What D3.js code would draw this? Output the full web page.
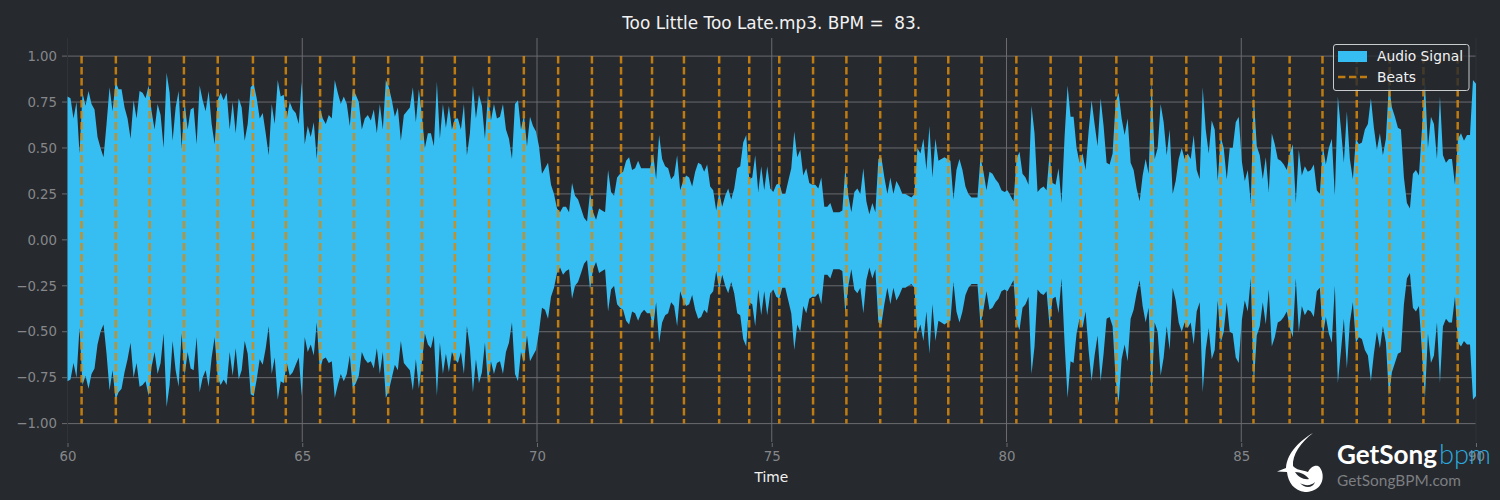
<!DOCTYPE html>
<html><head><meta charset="utf-8">
<script src="https://cdn.jsdelivr.net/npm/d3@7/dist/d3.min.js"></script>
<style>html,body{margin:0;padding:0;background:#26292e;overflow:hidden}svg{display:block}text{font-family:"DejaVu Sans",sans-serif}</style>
</head><body><svg id="c" width="1500" height="500"></svg>
<script>
const titleText = "Too Little Too Late.mp3. BPM =  83.";
const xTicks = [60,65,70,75,80,85,90];
const yTicks = [-1,-0.75,-0.5,-0.25,0,0.25,0.5,0.75,1];
const beatTimes = [60.30,61.03,61.75,62.48,63.20,63.95,64.65,65.38,66.10,66.83,67.55,68.25,68.98,69.72,70.45,71.17,71.79,72.45,73.13,73.88,74.52,75.16,75.88,76.59,77.31,78.06,78.76,79.47,80.21,80.94,81.58,82.34,83.09,83.83,84.56,85.26,86.03,86.73,87.46,88.16,88.88,89.61];
// upper envelope of the signal, one value per column of the picture
const signalTop = [
.78,.77,.66,.75,.47,.80,.73,.81,.74,.71,.56,.50,.45,.63,.83,.70,.86,.82,.82,.72,.66,.55,.76,.66,.81,.80,.77,.84,.70,.60,.74,.68,.50,.91,.80,.54,.72,.81,.50,.75,.60,.71,.72,.52,.84,.76,.70,.81,.63,.52,.76,.80,.76,.80,.60,.75,.58,.77,.72,.54,.63,.83,.85,.77,.66,.69,.58,.46,.74,.63,.87,.78,.79,.66,.75,.71,.69,.63,
.86,.52,.62,.56,.64,.44,.72,.66,.63,.68,.66,.87,.80,.74,.78,.74,.62,.82,.79,.75,.60,.66,.68,.65,.71,.58,.74,.60,.87,.83,.76,.67,.72,.54,.68,.70,.72,.83,.64,.82,.68,.50,.58,.58,.51,.86,.55,.74,.61,.73,.60,.66,.66,.60,.74,.46,.58,.84,.66,.79,.73,.55,.79,.65,.74,.66,.67,.74,.60,.55,.44,.74,.76,.60,.68,.51,.67,.62,.59,.51,
.36,.39,.42,.30,.25,.17,.15,.18,.18,.15,.31,.24,.22,.17,.12,.10,.26,.15,.11,.17,.16,.15,.38,.26,.24,.34,.36,.37,.43,.45,.38,.39,.43,.39,.39,.39,.39,.47,.33,.57,.44,.40,.39,.33,.35,.46,.27,.32,.35,.34,.29,.37,.42,.41,.37,.41,.29,.27,.16,.26,.18,.24,.28,.22,.28,.39,.40,.53,.57,.33,.34,.46,.26,.40,.27,.40,.28,.26,.30,.31,
.25,.25,.32,.39,.59,.45,.49,.35,.39,.31,.30,.30,.28,.34,.18,.18,.20,.15,.15,.15,.16,.39,.24,.15,.26,.28,.25,.39,.21,.14,.20,.15,.44,.45,.34,.25,.34,.25,.32,.29,.25,.25,.24,.23,.25,.50,.47,.55,.38,.62,.34,.55,.43,.44,.45,.44,.43,.22,.38,.44,.38,.29,.25,.23,.23,.23,.45,.37,.27,.37,.36,.33,.31,.27,.26,.27,.24,.21,.44,.48,
.36,.34,.30,.73,.58,.26,.28,.29,.27,.47,.31,.30,.39,.20,.56,.84,.67,.67,.50,.42,.47,.38,.59,.76,.63,.51,.77,.62,.42,.41,.47,.75,.80,.66,.57,.66,.42,.38,.28,.21,.35,.44,.36,.86,.44,.50,.74,.64,.46,.60,.25,.32,.44,.50,.44,.47,.44,.57,.38,.33,.83,.60,.47,.65,.60,.32,.56,.50,.33,.50,.50,.64,.67,.43,.32,.38,.20,.78,.51,.46,
.33,.45,.26,.58,.52,.44,.43,.41,.38,.47,.52,.20,.49,.35,.40,.37,.38,.41,.27,.25,.51,.41,.50,.55,.24,.78,.61,.42,.70,.44,.33,.55,.52,.53,.60,.63,.77,.61,.49,.58,.46,.55,.85,.72,.67,.61,.60,.34,.20,.17,.36,.38,.35,.60,.86,.50,.67,.63,.44,.78,.46,.42,.44,.44,.30,.55,.58,.54,.57,.57,.87,.85];
// lower envelope of the signal, one value per column of the picture
const signalBottom = [
-.77,-.76,-.67,-.75,-.48,-.79,-.74,-.81,-.73,-.70,-.57,-.50,-.46,-.62,-.82,-.71,-.87,-.83,-.81,-.72,-.65,-.56,-.75,-.67,-.80,-.79,-.77,-.85,-.69,-.61,-.73,-.67,-.51,-.91,-.79,-.55,-.71,-.80,-.51,-.74,-.61,-.70,-.71,-.53,-.83,-.75,-.71,-.80,-.64,-.53,-.75,-.79,-.76,-.79,-.61,-.74,-.59,-.76,-.71,-.55,-.62,-.84,-.85,-.76,-.65,-.68,-.59,-.47,-.73,-.64,-.87,-.77,-.78,-.67,-.74,-.72,-.68,-.64,
-.85,-.53,-.61,-.57,-.63,-.45,-.71,-.65,-.64,-.67,-.66,-.86,-.79,-.73,-.77,-.73,-.63,-.81,-.78,-.74,-.61,-.65,-.67,-.66,-.70,-.59,-.73,-.61,-.86,-.82,-.75,-.68,-.71,-.55,-.67,-.69,-.71,-.82,-.65,-.81,-.67,-.51,-.57,-.59,-.52,-.85,-.56,-.73,-.62,-.72,-.61,-.65,-.67,-.61,-.73,-.47,-.59,-.83,-.65,-.78,-.72,-.56,-.78,-.66,-.73,-.67,-.66,-.73,-.61,-.56,-.45,-.73,-.77,-.61,-.67,-.52,-.66,-.63,-.60,-.50,
-.37,-.38,-.43,-.31,-.26,-.18,-.15,-.19,-.17,-.16,-.32,-.25,-.23,-.18,-.13,-.11,-.27,-.16,-.12,-.18,-.17,-.16,-.39,-.27,-.25,-.35,-.37,-.38,-.44,-.46,-.39,-.40,-.44,-.40,-.38,-.40,-.40,-.48,-.34,-.56,-.45,-.41,-.40,-.34,-.36,-.47,-.28,-.33,-.36,-.35,-.30,-.38,-.43,-.42,-.38,-.40,-.30,-.28,-.17,-.27,-.19,-.25,-.29,-.23,-.29,-.40,-.41,-.54,-.58,-.34,-.35,-.47,-.27,-.41,-.28,-.41,-.29,-.27,-.31,-.32,
-.26,-.26,-.33,-.40,-.60,-.46,-.50,-.36,-.40,-.32,-.31,-.31,-.29,-.35,-.19,-.19,-.21,-.16,-.16,-.16,-.17,-.40,-.25,-.16,-.27,-.29,-.26,-.40,-.22,-.15,-.21,-.16,-.45,-.46,-.35,-.26,-.35,-.26,-.33,-.30,-.26,-.26,-.25,-.24,-.26,-.51,-.46,-.55,-.39,-.62,-.35,-.55,-.44,-.45,-.46,-.45,-.44,-.23,-.39,-.45,-.39,-.30,-.26,-.24,-.24,-.24,-.46,-.38,-.28,-.38,-.37,-.34,-.32,-.28,-.27,-.28,-.25,-.22,-.45,-.49,
-.37,-.35,-.31,-.73,-.58,-.27,-.29,-.30,-.28,-.47,-.32,-.31,-.40,-.21,-.56,-.86,-.66,-.67,-.51,-.43,-.48,-.39,-.60,-.77,-.63,-.52,-.77,-.62,-.43,-.42,-.47,-.76,-.89,-.65,-.57,-.66,-.43,-.38,-.29,-.22,-.36,-.45,-.37,-.84,-.45,-.50,-.74,-.64,-.47,-.60,-.26,-.33,-.45,-.50,-.45,-.48,-.45,-.57,-.39,-.34,-.83,-.60,-.48,-.65,-.60,-.33,-.56,-.50,-.34,-.50,-.51,-.64,-.67,-.44,-.33,-.39,-.21,-.79,-.52,-.47,
-.34,-.46,-.27,-.58,-.53,-.45,-.44,-.42,-.39,-.48,-.53,-.21,-.50,-.36,-.41,-.38,-.39,-.42,-.28,-.26,-.52,-.42,-.51,-.56,-.25,-.78,-.61,-.43,-.70,-.45,-.34,-.56,-.53,-.54,-.60,-.63,-.77,-.62,-.50,-.59,-.47,-.56,-.85,-.72,-.67,-.62,-.61,-.35,-.21,-.18,-.37,-.39,-.36,-.61,-.86,-.51,-.67,-.63,-.45,-.78,-.47,-.43,-.45,-.45,-.31,-.56,-.58,-.55,-.57,-.57,-.87,-.85];

const svg = d3.select("#c");
const x = d3.scaleLinear().domain([60,90]).range([67.5,1476]);
const y = d3.scaleLinear().domain([-1,1]).range([423.6,56.1]);
const bg="#26292e", blue="#36bdf1", orange="#d98a0c", grid="#696b6f", tick="#85878a";

svg.append("rect").attr("width",1500).attr("height",500).attr("fill",bg);

// grid under the signal
svg.append("g").selectAll("line").data(yTicks).join("line")
  .attr("x1",62).attr("x2",1476).attr("y1",d=>y(d)).attr("y2",d=>y(d))
  .attr("stroke",grid).attr("stroke-width",1);
svg.append("g").selectAll("line").data(xTicks).join("line")
  .attr("x1",d=>x(d)).attr("x2",d=>x(d)).attr("y1",38).attr("y2",442)
  .attr("stroke",d=>(d===60||d===90)?"#303338":grid).attr("stroke-width",1);

// signal
const dt = 30/(signalTop.length-1);
const cols = d3.range(signalTop.length);
const area = d3.area()
  .x(i=>x(60+i*dt))
  .y0(i=>y(signalBottom[i]))
  .y1(i=>y(signalTop[i]))
  .curve(d3.curveLinear);
svg.append("path").attr("d",area(cols)).attr("fill",blue);

// beats
svg.append("g").selectAll("line").data(beatTimes).join("line")
  .attr("x1",d=>x(d)).attr("x2",d=>x(d)).attr("y1",y(1)).attr("y2",y(-1))
  .attr("stroke",orange).attr("stroke-opacity",.85).attr("stroke-width",2.5).attr("stroke-dasharray","7.4,3.6");

// axes
const fmt = d=>d3.format(".2f")(d).replace("-","\u2212");
const gy = svg.append("g").attr("transform","translate(62,0)")
  .call(d3.axisLeft(y).tickValues(yTicks).tickFormat(fmt).tickSize(0).tickPadding(5));
gy.select(".domain").remove();
gy.selectAll("text").attr("fill",tick).style("font-size","13.3px").style("font-family",'"DejaVu Sans"');
const gx = svg.append("g").attr("transform","translate(0,443)")
  .call(d3.axisBottom(x).tickValues(xTicks).tickFormat(d3.format("d")).tickSize(4).tickPadding(5));
gx.select(".domain").remove();
gx.selectAll("line").attr("stroke",grid).attr("stroke-width",1);
gx.selectAll("text").attr("fill",tick).style("font-size","13.3px").style("font-family",'"DejaVu Sans"');

// title and axis label
svg.append("text").attr("x",771.7).attr("y",28.5).attr("text-anchor","middle")
  .attr("fill","#f2f2f2").style("font-size","16.9px").style("white-space","pre").text(titleText);
svg.append("text").attr("x",771.3).attr("y",482).attr("text-anchor","middle")
  .attr("fill","#f2f2f2").style("font-size","13.8px").text("Time");

// legend
const lg = svg.append("g");
lg.append("rect").attr("x",1333.5).attr("y",44.5).attr("width",135.5).attr("height",46)
  .attr("rx",2.5).attr("fill",bg).attr("fill-opacity",.8).attr("stroke","#c9cacb").attr("stroke-width",1);
lg.append("rect").attr("x",1338).attr("y",51).attr("width",29).attr("height",11).attr("fill",blue);
lg.append("line").attr("x1",1338).attr("x2",1367).attr("y1",77).attr("y2",77)
  .attr("stroke",orange).attr("stroke-opacity",.85).attr("stroke-width",2.5).attr("stroke-dasharray","7.4,3.6");
lg.append("text").attr("x",1377).attr("y",61).attr("fill","#f2f2f2").style("font-size","13.8px").text("Audio Signal");
lg.append("text").attr("x",1377).attr("y",82).attr("fill","#f2f2f2").style("font-size","13.8px").text("Beats");

// watermark
const wm = svg.append("g");
wm.append("path").attr("fill","#fff").attr("d","M1313,433 C1301,440 1287,452 1286,468 L1277,471.5 L1287,472 C1288,482 1294,491 1305,492 C1316,492 1324,485 1322.5,474 C1322,470 1320,467 1318,466 C1314,465 1310,468 1308,472 C1302,470 1296,470 1293,466 C1292,455 1301,442 1313,433 Z");
wm.append("path").attr("fill",bg).attr("d","M1295,472 C1301,472 1306,475 1309,479 C1304,480 1298,477 1295,472 Z M1300,483 C1305,486 1311,486 1315,482 C1313,488 1305,489 1300,483 Z");
wm.append("text").attr("x",1337).attr("y",464).attr("fill","#fff").attr("textLength",100).attr("lengthAdjust","spacingAndGlyphs")
  .style("font-family","Lato").style("font-weight","700").style("font-size","26px").text("GetSong");
wm.append("text").attr("x",1439).attr("y",464).attr("fill","#2aa7df").attr("textLength",52).attr("lengthAdjust","spacingAndGlyphs")
  .style("font-family","Lato").style("font-weight","300").style("font-size","27px").text("bpm");
wm.append("text").attr("x",1337).attr("y",486).attr("fill","#7c7e81").attr("textLength",124).attr("lengthAdjust","spacingAndGlyphs")
  .style("font-family","Lato").style("font-weight","400").style("font-size","15.5px").text("GetSongBPM.com");
</script></body></html>
